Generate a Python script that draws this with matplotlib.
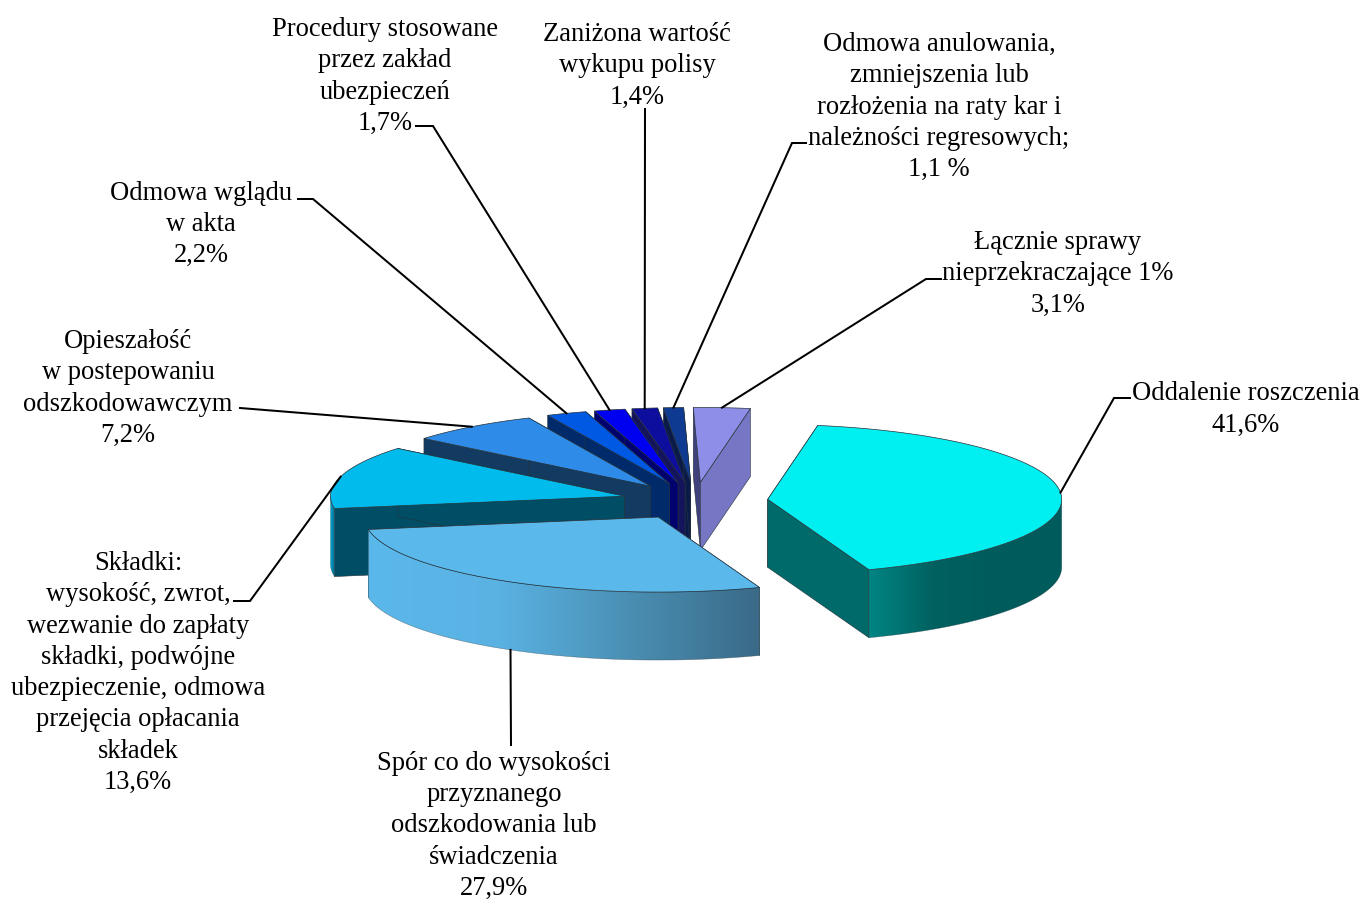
import numpy as np
import matplotlib
matplotlib.use("Agg")
import matplotlib.pyplot as plt
from matplotlib.colors import LinearSegmentedColormap
from matplotlib.patches import Polygon

# chart data, clockwise from the start angle
names = [
    "Oddalenie roszczenia",
    "Spór co do wysokości\nprzyznanego\nodszkodowania lub\nświadczenia",
    "Składki:\nwysokość, zwrot,\nwezwanie do zapłaty\nskładki, podwójne\nubezpieczenie, odmowa\nprzejęcia opłacania\nskładek",
    "Opieszałość\nw postepowaniu\nodszkodowawczym",
    "Odmowa wglądu\nw akta",
    "Procedury stosowane\nprzez zakład\nubezpieczeń",
    "Zaniżona wartość\nwykupu polisy",
    "Odmowa anulowania,\nzmniejszenia lub\nrozłożenia na raty kar i\nnależności regresowych;",
    "Łącznie sprawy\nnieprzekraczające 1%",
]
values = [41.6, 27.9, 13.6, 7.2, 2.2, 1.7, 1.4, 1.1, 3.1]
value_labels = ["41,6%", "27,9%", "13,6%", "7,2%", "2,2%", "1,7%", "1,4%", "1,1 %", "3,1%"]

top_colors = ["#00EFF0", "#5BB8EB", "#00BBEB", "#2E8BE8", "#0059E2",
              "#0000F0", "#0E0E9E", "#0E3A92", "#8E8EE8"]
# cut faces: the clockwise-first edge and the clockwise-last edge
first_cut_colors = ["#006A6A", "#3A6E8C", "#004E66", "#133A60", "#002A6A",
                    "#00006E", "#14145C", "#0A1B4A", "#40407C"]
last_cut_colors = ["#006A6A", "#3A6E8C", "#004E66", "#133A60", "#002A6A",
                   "#00006E", "#14145C", "#0A1B4A", "#7676C4"]
wall_colors = [
    ["#008583", "#006160", "#005C5C", "#005C5C"],
    ["#5BB8EA", "#5AB2E3", "#4A8FB3", "#3A6A88"],
    ["#00B4E0", "#006080"],
    ["#133A60"], ["#002A6A"], ["#00006E"], ["#14145C"], ["#0A1B4A"], ["#7676C4"],
]

# label layout, in pixels of the figure
label_xy = [(1246, 409.5), (494, 826), (138, 673), (128, 388.5), (201, 224.5),
            (385, 76.5), (637, 66), (939, 107), (1058, 274)]
elbows = [
    [(1114, 398), (1130, 398)],
    [(511, 745)],
    [(250, 601), (234, 601)],
    [(240, 408)],
    [(313, 199), (298, 199)],
    [(433, 126), (416, 126)],
    [(645, 109)],
    [(792, 143), (806, 143)],
    [(926, 279), (941, 279)],
]

_CENTER = (695, 501)
_RADIUS = 294
_SQUASH = 0.255
_DEPTH = 68
_EXPLODE = 73
_START_ANGLE = 80.2
_EDGE = "#26323a"


def _rim(center, angle):
    t = np.radians(angle)
    return (center[0] + _RADIUS * np.cos(t),
            center[1] - _RADIUS * _SQUASH * np.sin(t))


def _down(points):
    return [(x, y + _DEPTH) for x, y in points]


def _slice_geometry():
    total = sum(values)
    sweeps = [v / total * 360 for v in values]
    ends = _START_ANGLE - np.cumsum(sweeps)
    starts = ends + sweeps
    return starts, ends


def _slice_center(mid):
    t = np.radians(mid)
    return (_CENTER[0] + _EXPLODE * np.cos(t),
            _CENTER[1] - _EXPLODE * _SQUASH * np.sin(t))


def _draw_wall(ax, center, angles, colors, z):
    front = angles[np.sin(np.radians(angles)) <= 0]
    if len(front) < 2:
        return
    arc = [_rim(center, a) for a in front]
    outline = arc + _down(arc)[::-1]
    xs = [p[0] for p in outline]
    ys = [p[1] for p in outline]
    cmap = LinearSegmentedColormap.from_list("wall", colors if len(colors) > 1 else colors * 2)
    gradient = np.linspace(0, 1, 256).reshape(1, -1)
    im = ax.imshow(gradient, cmap=cmap, aspect="auto", zorder=z, interpolation="bilinear",
                   extent=(min(xs), max(xs), max(ys), min(ys)))
    clip = Polygon(outline, closed=True, transform=ax.transData)
    im.set_clip_path(clip)
    ax.add_patch(Polygon(outline, closed=True, fill=False, edgecolor=_EDGE,
                         linewidth=0.4, alpha=0.5, zorder=z))


def _draw_slice(ax, i, start, end, z):
    mid = (start + end) / 2
    center = _slice_center(mid)
    angles = np.linspace(start, end, 120)

    for angle, color in ((start, first_cut_colors[i]), (end, last_cut_colors[i])):
        edge = [center, _rim(center, angle)]
        ax.add_patch(Polygon(edge + _down(edge)[::-1], closed=True, facecolor=color,
                             edgecolor=_EDGE, linewidth=0.4, zorder=z))

    _draw_wall(ax, center, angles, wall_colors[i], z)

    top = [center] + [_rim(center, a) for a in angles]
    ax.add_patch(Polygon(top, closed=True, facecolor=top_colors[i], edgecolor=_EDGE,
                         linewidth=0.5, zorder=z))


def _draw_label(ax, i, start, end):
    mid = (start + end) / 2
    x, y = _rim(_slice_center(mid), mid)
    if np.sin(np.radians(mid)) < 0:
        y += _DEPTH
    path = [(x, y)] + elbows[i]
    ax.plot([p[0] for p in path], [p[1] for p in path], color="black",
            linewidth=1.45, solid_joinstyle="miter", zorder=50)
    ax.text(label_xy[i][0], label_xy[i][1], names[i] + "\n" + value_labels[i],
            ha="center", va="center", multialignment="center", fontsize=19.1,
            family="Liberation Serif", linespacing=1.33, color="black", zorder=60)


def main():
    fig = plt.figure(figsize=(13.65, 8.99), dpi=100, facecolor="white")
    ax = fig.add_axes([0, 0, 1, 1])

    starts, ends = _slice_geometry()
    mids = (starts + ends) / 2
    # back slices first so the front ones cover them
    order = sorted(range(len(values)), key=lambda k: -np.sin(np.radians(mids[k])))
    for z, i in enumerate(order):
        _draw_slice(ax, i, starts[i], ends[i], z + 2)
    for i in range(len(values)):
        _draw_label(ax, i, starts[i], ends[i])

    ax.set_xlim(0, 1365)
    ax.set_ylim(899, 0)
    ax.axis("off")
    fig.savefig("out.png", dpi=100, facecolor="white")


if __name__ == "__main__":
    main()
